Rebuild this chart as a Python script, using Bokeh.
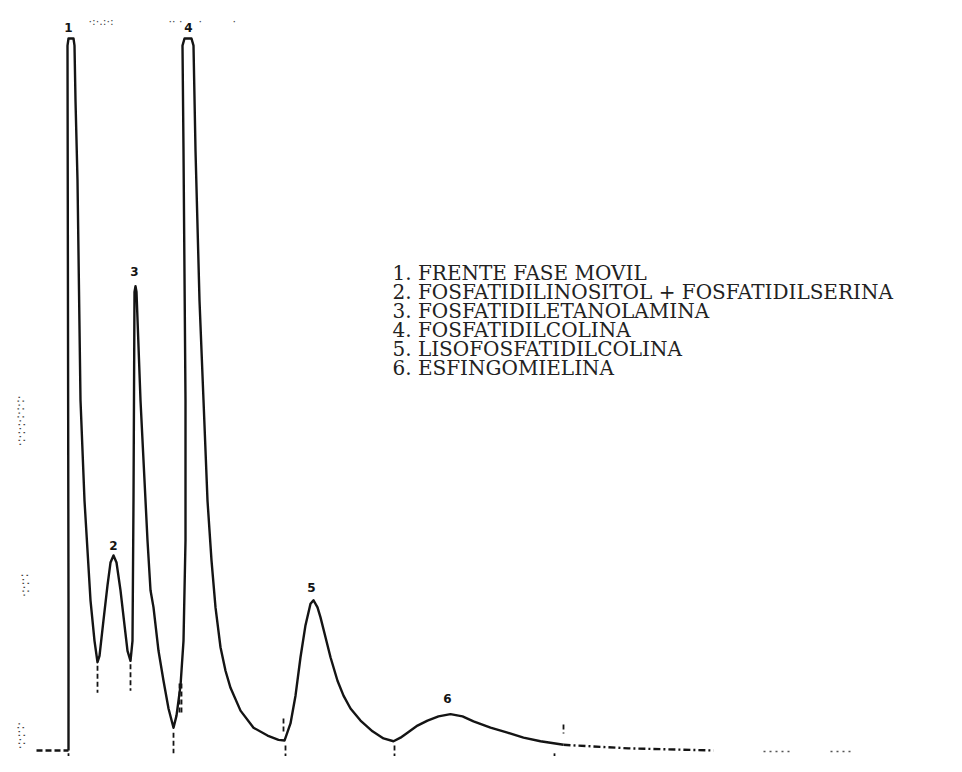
from bokeh.plotting import figure
from bokeh.models import Range1d, ColumnDataSource
from bokeh.core.properties import value
from bokeh.embed import file_html
from bokeh.resources import INLINE

# ---------------- data (retention time, min ; detector response, % of full scale) -------------
trace_t = [0.0, 0.0, -0.05, 0.0, 0.25, 0.3, 0.35, 0.45, 0.6, 0.8, 1.1, 1.3, 1.45,
           1.55, 1.75, 1.95, 2.1, 2.25, 2.4, 2.6, 2.8, 2.95, 3.1,
           3.2, 3.25, 3.3, 3.35, 3.4, 3.6, 3.95, 4.1, 4.25, 4.5, 4.75, 5.0, 5.25,
           5.4, 5.6, 5.75, 5.85, 5.85, 5.75, 5.7, 5.8, 6.15, 6.25, 6.35, 6.55, 6.75,
           6.95, 7.15, 7.35, 7.6, 7.85, 8.1, 8.6, 9.25, 9.95, 10.5, 10.8,
           11.1, 11.35, 11.6, 11.85, 12.1, 12.25, 12.45, 12.6, 12.85, 13.1, 13.45,
           13.75, 14.1, 14.6, 15.2, 15.75, 16.25,
           16.6, 16.95, 17.45, 17.95, 18.5, 19.1, 19.7, 20.25, 21.1, 21.95, 22.75,
           23.6, 24.75]
trace_r = [0.0, 21.1, 99.0, 100.0, 100.0, 99.0, 91.3, 80.1, 49.2, 35.1, 21.1, 15.4, 12.4,
           13.3, 18.3, 23.2, 26.4, 27.4, 26.4, 22.5, 17.6, 14.0, 12.6,
           15.4, 35.1, 64.4, 65.2, 64.4, 49.2, 29.5, 22.5, 20.1, 14.0, 9.8, 5.9, 3.2,
           4.9, 9.1, 15.4, 29.5, 49.2, 84.3, 99.0, 100.0, 100.0, 99.0, 84.3, 63.2, 49.2,
           35.1, 26.7, 20.1, 14.5, 11.2, 8.8, 5.6, 3.2, 2.1, 1.5, 1.4,
           3.8, 7.7, 13.1, 17.6, 20.6, 21.1, 20.1, 18.7, 15.9, 13.1, 9.8,
           7.7, 5.9, 4.2, 2.7, 1.7, 1.3,
           1.8, 2.5, 3.5, 4.2, 4.8, 5.1, 4.8, 4.1, 3.2, 2.5, 1.8,
           1.3, 0.8]

# baseline before injection and after the last peak
pre_t = [-1.6, 0.0]
pre_r = [0.0, 0.0]
post_t = [24.75, 28.0, 32.25]
post_r = [0.8, 0.3, 0.0]
dots_t = [[34.75, 36.1], [38.1, 39.2]]
dots_r = [[-0.14, -0.14], [-0.14, -0.14]]

# integrator event marks (time, from, to)
mark_t = [0.0, 1.45, 3.1, 5.25, 5.55, 5.65, 10.75, 10.85, 16.3, 24.75, 24.3]
mark_r0 = [-0.4, 11.9, 12.1, 2.5, 9.4, 9.4, 4.5, 0.7, 0.7, 3.65, -0.4]
mark_r1 = [-2.8, 8.1, 8.4, -0.4, 5.3, 5.3, 2.4, -2.1, -2.1, 2.4, -2.4]

# peak numbers
peak_labels = ["1", "2", "3", "4", "5", "6"]
peak_t = [0.0, 2.25, 3.3, 6.0, 12.15, 18.95]
peak_r = [101.5, 28.8, 67.3, 101.5, 22.9, 7.3]

legend_lines = [
    "1. FRENTE FASE MOVIL",
    "2. FOSFATIDILINOSITOL + FOSFATIDILSERINA",
    "3. FOSFATIDILETANOLAMINA",
    "4. FOSFATIDILCOLINA",
    "5. LISOFOSFATIDILCOLINA",
    "6. ESFINGOMIELINA",
]

# faint recorder annotations (illegible in the original scan)
note_text = ["·:·.:·:", "·· ·", "·", "·"]
note_t = [1.0, 5.0, 6.5, 8.2]
note_r = [102.4, 102.4, 102.4, 102.4]
side_text = ["·:·:·:·:·:·:·", "·:·:·:", "·:·:·:·"]
side_t = [-2.4, -2.2, -2.4]
side_r = [46.3, 23.2, 2.1]

# ---------------- figure ----------------
W, H = 946, 756
PX_T = 20.0      # px per minute
PX_R = 7.12      # px per % response
X0, Y0 = 68, 750   # injection point inside the frame (px)

p = figure(width=W, height=H, output_backend="svg", toolbar_location=None,
           x_axis_type=None, y_axis_type=None, min_border=0,
           x_range=Range1d(-X0 / PX_T, (W - X0) / PX_T),
           y_range=Range1d(-(H - Y0) / PX_R, Y0 / PX_R))
p.outline_line_color = None
p.grid.visible = False
p.background_fill_color = "white"
p.border_fill_color = "white"

ink = "#141414"

p.line(trace_t, trace_r, line_color=ink, line_width=2.4, line_join="round")
p.line(pre_t, pre_r, line_color=ink, line_width=2.4, line_dash="6 3")
p.line(post_t, post_r, line_color=ink, line_width=2.4, line_dash="7 3 2 3")
p.multi_line(dots_t, dots_r, line_color="#555555", line_width=1.6, line_dash="2 4")

p.segment(x0=mark_t, y0=mark_r0, x1=mark_t, y1=mark_r1, line_color=ink,
          line_width=1.8, line_dash="5 3")

p.text(x=peak_t, y=peak_r, text=peak_labels, text_align="center",
       text_baseline="middle", text_font=value("DejaVu Sans"),
       text_font_size="12px", text_font_style="bold", text_color=ink)

p.text(x=note_t, y=note_r, text=note_text, text_align="left",
       text_baseline="middle", text_font=value("DejaVu Sans"),
       text_font_size="11px", text_color="#444444")
p.text(x=side_t, y=side_r, text=side_text, text_align="center",
       text_baseline="middle", text_font=value("DejaVu Sans"),
       text_font_size="12px", text_color="#444444", angle=1.5708)

# legend block
LX = (392 - 68) / PX_T
LY0 = (750 - 272) / PX_R
LDY = 19 / PX_R
src = ColumnDataSource(dict(x=[LX] * len(legend_lines),
                            y=[LY0 - i * LDY for i in range(len(legend_lines))],
                            text=legend_lines))
p.text(x="x", y="y", text="text", source=src, text_align="left",
       text_baseline="middle", text_font=value("DejaVu Serif"),
       text_font_size="20px", text_color="#222222")

open("out.html", "w").write(file_html(p, INLINE))
